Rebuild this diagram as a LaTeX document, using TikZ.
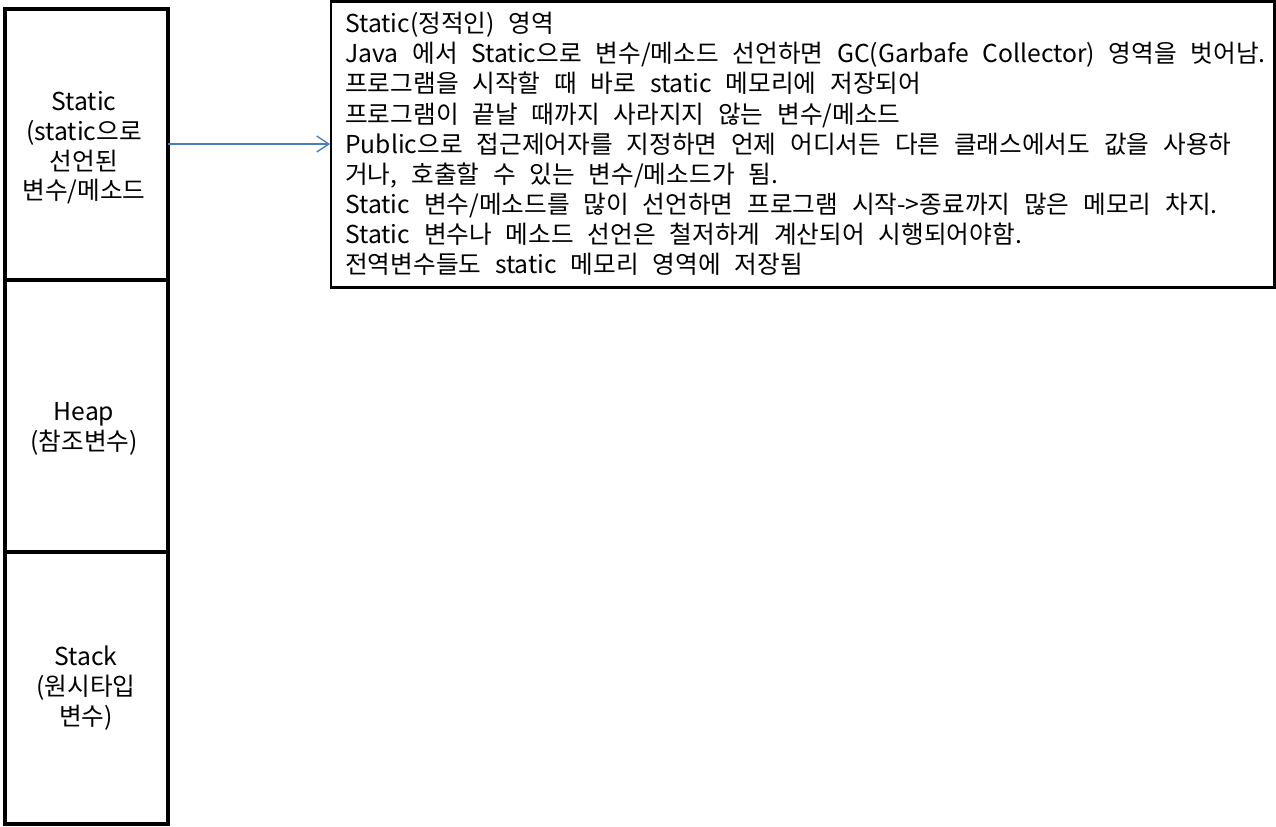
\documentclass[tikz,border=0pt]{standalone}
\usepackage{fontspec}
\setmainfont{Noto Sans CJK KR}[WordSpace=2.5]
\usetikzlibrary{arrows.meta}
\definecolor{arrowblue}{HTML}{4A7EBB}
\tikzset{
  mem/.style={draw=black, line width=3pt},
  lbl/.style={align=center, inner sep=0pt, font=\fontsize{18.5}{22.3}\selectfont},
  info/.style={draw=black, line width=1.9pt},
  infotext/.style={align=left, anchor=north west, inner sep=0pt, font=\fontsize{18.5}{22.6}\selectfont},
  conn/.style={draw=arrowblue, line width=1pt, -{Straight Barb[length=9pt,width=12pt]}}
}
\begin{document}
\begin{tikzpicture}[x=0.75pt,y=-0.75pt]
\useasboundingbox (0,0) rectangle (1276,826);
\draw[mem] (5,9) rectangle (168,280);
\draw[mem] (5,280) rectangle (168,552);
\draw[mem] (5,552) rectangle (168,824);
\coordinate (staticR) at (168,144);
\node[lbl] (staticL) at (84,148) {Static\\(static으로\\선언된\\변수/메소드};
\node[lbl] (heapL) at (84,429) {Heap\\(참조변수)};
\node[lbl] (stackL) at (86,688) {Stack\\(원시타입\\변수)};
\draw[info] (331,1.5) rectangle (1274.5,287.5);
\coordinate (infoL) at (330,144);
\node[infotext] (info) at (345,12) {Static(정적인) 영역\\
Java 에서 Static으로 변수/메소드 선언하면 GC(Garbafe Collector) 영역을 벗어남.\\
프로그램을 시작할 때 바로 static 메모리에 저장되어\\
프로그램이 끝날 때까지 사라지지 않는 변수/메소드\\
Public으로 접근제어자를 지정하면 언제 어디서든 다른 클래스에서도 값을 사용하\\
거나, 호출할 수 있는 변수/메소드가 됨.\\
Static 변수/메소드를 많이 선언하면 프로그램 시작->종료까지 많은 메모리 차지.\\
Static 변수나 메소드 선언은 철저하게 계산되어 시행되어야함.\\
전역변수들도 static 메모리 영역에 저장됨};
\draw[conn] (staticR) -- (infoL);
\end{tikzpicture}
\end{document}
